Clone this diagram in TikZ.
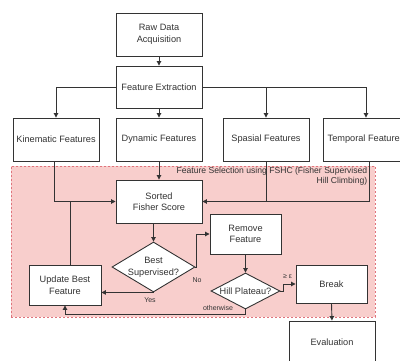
\documentclass[tikz,border=0pt]{standalone}
\usepackage{fontspec}
\setmainfont{Liberation Sans}
\usetikzlibrary{shapes.geometric,arrows.meta}
\definecolor{grpfill}{HTML}{F8CECC}
\definecolor{grpline}{HTML}{E0737C}
\definecolor{ink}{HTML}{333333}

\begin{document}
\begin{tikzpicture}[x=1pt,y=-1pt,
  box/.style={draw=ink, fill=white, line width=0.9pt, minimum width=86pt,
    minimum height=43pt, inner sep=1pt, align=center, text=ink,
    font=\fontsize{9.2}{11.5}\selectfont},
  dia/.style={draw=ink, fill=white, line width=0.9pt, shape=diamond,
    inner sep=0pt, text=ink, font=\fontsize{9.2}{11.5}\selectfont},
  grp/.style={fill=grpfill, draw=grpline, line width=0.8pt,
    dash pattern=on 2pt off 2pt, inner sep=0pt},
  lbl/.style={inner sep=0.5pt, text=ink, font=\fontsize{7}{8}\selectfont},
  link/.style={draw=ink, line width=0.9pt},
  arr/.style={link, -{Triangle[length=4.5pt,width=4.5pt]}}
]
\useasboundingbox (0,0) rectangle (400,360);

% feature selection group
\node[grp, minimum width=364pt, minimum height=151pt] (grp) at (193,241.5) {};
\node[anchor=north east, align=right, inner sep=1pt, text=ink,
  font=\fontsize{8.6}{10}\selectfont] (grplbl) at (368.5,166.5)
  {Feature Selection using FSHC (Fisher Supervised\\Hill Climbing)};

% pipeline boxes
\node[box] (raw) at (159,34.5) {Raw Data\\Acquisition};
\node[box, minimum height=42pt] (fe) at (159,87) {Feature Extraction};
\node[box] (kin) at (56,139.5) {Kinematic Features};
\node[box] (dyn) at (159,139.5) {Dynamic Features};
\node[box] (spa) at (266,139.5) {Spasial Features};
\node[box] (tem) at (366,139.5) {Temporal Features};
\node[box] (sfs) at (159,201.5) {Sorted\\Fisher Score};
\node[box, minimum width=71pt, minimum height=40pt] (rem) at (245.5,234) {Remove\\Feature};
\node[box, minimum width=72pt, minimum height=40pt] (upd) at (65,285) {Update Best\\Feature};
\node[box, minimum width=71pt, minimum height=38pt] (brk) at (331.5,284) {Break};
\node[box] (eva) at (332,342.5) {Evaluation};

% decisions
\node[dia, minimum width=83pt, minimum height=50pt] (best) at (153.5,267)
  {\makebox[0pt]{\begin{tabular}{@{}c@{}}Best\\Supervised?\end{tabular}}};
\node[dia, minimum width=69pt, minimum height=36pt] (hill) at (245.5,291)
  {\makebox[0pt]{Hill Plateau?}};

% extraction fan-out
\draw[arr] (raw) -- (fe);
\draw[arr] (fe.west) -| (kin.north);
\draw[arr] (fe) -- (dyn);
\draw[arr] (fe.east) -| (spa.north);
\draw[arr] (fe.east) -| (tem.north);

% into the sorted score
\draw[arr] (kin.south -| 54,0) |- (sfs.west);
\draw[arr] (dyn) -- (sfs);
\draw[arr] (spa.south) |- (sfs.east);
\draw[link] (tem.south -| 369,0) |- (spa.south |- sfs.east);
\draw[link] (upd.north -| 70,0) -- (70,201.5);

% selection loop
\draw[arr] (sfs.south -| best.north) -- (best.north);
\draw[arr] (best.east) -- (196.5,267) |- (rem.west);
\draw[arr] (best.south) -- (best.south -| upd.east);
\draw[arr] (rem.south) -- (hill.north);
\draw[arr] (hill.east) -- (283,291) |- (brk.west);
\draw[arr] (hill.south) -- (245.5,314) -| (upd.south);
\draw[arr] (brk.south) -- (eva.north);

% edge labels
\node[lbl] (lno) at (197,280.5) {No};
\node[lbl] (lyes) at (150,300.5) {Yes};
\node[lbl] (lother) at (218,307.5) {otherwise};
\node[lbl] (leps) at (287.5,276) {≥ ε};
\end{tikzpicture}
\end{document}
